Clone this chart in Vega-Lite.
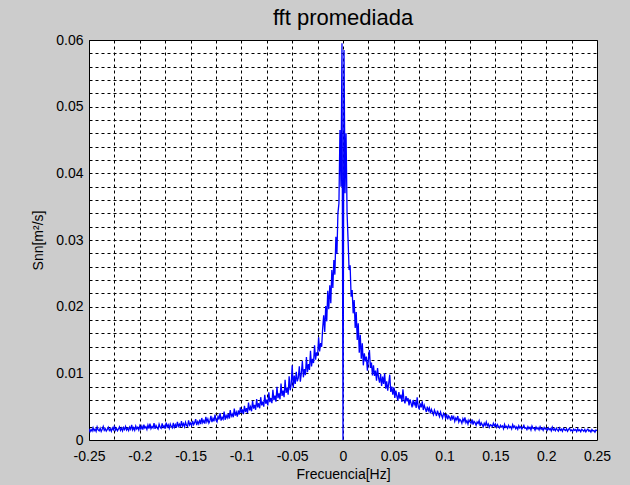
{
  "$schema": "https://vega.github.io/schema/vega-lite/v6.json",
  "width": 508,
  "height": 400,
  "autosize": {"type": "none"},
  "padding": {"left": 89, "top": 40, "right": 33, "bottom": 45},
  "background": "#cccccc",
  "title": {"text": "fft promediada", "fontSize": 22, "fontWeight": "normal", "font": "Liberation Sans", "color": "#000000", "offset": 3},
  "config": {
    "view": {"stroke": "#000000", "strokeWidth": 1, "fill": "#ffffff"},
    "axis": {"labelFont": "Liberation Sans", "titleFont": "Liberation Sans", "labelFontSize": 14, "titleFontSize": 14, "labelColor": "#000000", "titleColor": "#000000", "titleFontWeight": "normal", "domain": false, "ticks": false, "grid": true, "gridColor": "#000000", "gridDash": [3, 3], "gridOpacity": 1, "gridWidth": 1}
  },
  "data": {"values": [
    {"f": -0.25, "s": 0.0017}, {"f": -0.249, "s": 0.00125}, {"f": -0.248, "s": 0.00158}, {"f": -0.247, "s": 0.00132}, {"f": -0.246, "s": 0.00185}, {"f": -0.245, "s": 0.0014}, {"f": -0.244, "s": 0.00164}, {"f": -0.243, "s": 0.00128}, {"f": -0.242, "s": 0.00196}, {"f": -0.241, "s": 0.00151},
    {"f": -0.24, "s": 0.00136}, {"f": -0.239, "s": 0.00177}, {"f": -0.238, "s": 0.00129}, {"f": -0.237, "s": 0.00162}, {"f": -0.236, "s": 0.00203}, {"f": -0.235, "s": 0.00144}, {"f": -0.234, "s": 0.00171}, {"f": -0.233, "s": 0.00135}, {"f": -0.232, "s": 0.00159}, {"f": -0.231, "s": 0.0019},
    {"f": -0.23, "s": 0.00142}, {"f": -0.229, "s": 0.00168}, {"f": -0.228, "s": 0.0013}, {"f": -0.227, "s": 0.00182}, {"f": -0.226, "s": 0.00154}, {"f": -0.225, "s": 0.00215}, {"f": -0.224, "s": 0.00147}, {"f": -0.223, "s": 0.00173}, {"f": -0.222, "s": 0.00138}, {"f": -0.221, "s": 0.00166},
    {"f": -0.22, "s": 0.00198}, {"f": -0.219, "s": 0.00145}, {"f": -0.218, "s": 0.00179}, {"f": -0.217, "s": 0.00136}, {"f": -0.216, "s": 0.00188}, {"f": -0.215, "s": 0.00157}, {"f": -0.214, "s": 0.00204}, {"f": -0.213, "s": 0.00149}, {"f": -0.212, "s": 0.00176}, {"f": -0.211, "s": 0.00141},
    {"f": -0.21, "s": 0.00193}, {"f": -0.209, "s": 0.0016}, {"f": -0.208, "s": 0.00226}, {"f": -0.207, "s": 0.00152}, {"f": -0.206, "s": 0.00184}, {"f": -0.205, "s": 0.00146}, {"f": -0.204, "s": 0.00209}, {"f": -0.203, "s": 0.00165}, {"f": -0.202, "s": 0.00191}, {"f": -0.201, "s": 0.0015},
    {"f": -0.2, "s": 0.00212}, {"f": -0.199, "s": 0.00164}, {"f": -0.198, "s": 0.00207}, {"f": -0.197, "s": 0.00156}, {"f": -0.196, "s": 0.00231}, {"f": -0.195, "s": 0.00178}, {"f": -0.194, "s": 0.00199}, {"f": -0.193, "s": 0.00158}, {"f": -0.192, "s": 0.00224}, {"f": -0.191, "s": 0.00172},
    {"f": -0.19, "s": 0.00246}, {"f": -0.189, "s": 0.00169}, {"f": -0.188, "s": 0.00202}, {"f": -0.187, "s": 0.0018}, {"f": -0.186, "s": 0.00253}, {"f": -0.185, "s": 0.00167}, {"f": -0.184, "s": 0.00218}, {"f": -0.183, "s": 0.00186}, {"f": -0.182, "s": 0.00163}, {"f": -0.181, "s": 0.00237},
    {"f": -0.18, "s": 0.00194}, {"f": -0.179, "s": 0.00175}, {"f": -0.178, "s": 0.00249}, {"f": -0.177, "s": 0.00189}, {"f": -0.176, "s": 0.00214}, {"f": -0.175, "s": 0.0017}, {"f": -0.174, "s": 0.00262}, {"f": -0.173, "s": 0.00196}, {"f": -0.172, "s": 0.00227}, {"f": -0.171, "s": 0.00177},
    {"f": -0.17, "s": 0.0024}, {"f": -0.169, "s": 0.00203}, {"f": -0.168, "s": 0.00181}, {"f": -0.167, "s": 0.00258}, {"f": -0.166, "s": 0.0019}, {"f": -0.165, "s": 0.00229}, {"f": -0.164, "s": 0.00184}, {"f": -0.163, "s": 0.00271}, {"f": -0.162, "s": 0.00206}, {"f": -0.161, "s": 0.00236},
    {"f": -0.16, "s": 0.00192}, {"f": -0.159, "s": 0.00284}, {"f": -0.158, "s": 0.00211}, {"f": -0.157, "s": 0.00245}, {"f": -0.156, "s": 0.00198}, {"f": -0.155, "s": 0.00267}, {"f": -0.154, "s": 0.0022}, {"f": -0.153, "s": 0.00205}, {"f": -0.152, "s": 0.00293}, {"f": -0.151, "s": 0.00226},
    {"f": -0.15, "s": 0.00254}, {"f": -0.149, "s": 0.00215}, {"f": -0.148, "s": 0.00288}, {"f": -0.147, "s": 0.0023}, {"f": -0.146, "s": 0.0026}, {"f": -0.145, "s": 0.00312}, {"f": -0.144, "s": 0.00224}, {"f": -0.143, "s": 0.00276}, {"f": -0.142, "s": 0.00241}, {"f": -0.141, "s": 0.00305},
    {"f": -0.14, "s": 0.00237}, {"f": -0.139, "s": 0.0033}, {"f": -0.138, "s": 0.00258}, {"f": -0.137, "s": 0.00291}, {"f": -0.136, "s": 0.00246}, {"f": -0.135, "s": 0.00347}, {"f": -0.134, "s": 0.00273}, {"f": -0.133, "s": 0.00316}, {"f": -0.132, "s": 0.00255}, {"f": -0.131, "s": 0.00289},
    {"f": -0.13, "s": 0.00362}, {"f": -0.129, "s": 0.00269}, {"f": -0.128, "s": 0.00324}, {"f": -0.127, "s": 0.0028}, {"f": -0.126, "s": 0.00381}, {"f": -0.125, "s": 0.00297}, {"f": -0.124, "s": 0.00272}, {"f": -0.123, "s": 0.00353}, {"f": -0.122, "s": 0.00308}, {"f": -0.121, "s": 0.00402},
    {"f": -0.12, "s": 0.0029}, {"f": -0.119, "s": 0.00339}, {"f": -0.118, "s": 0.00311}, {"f": -0.117, "s": 0.00425}, {"f": -0.116, "s": 0.00304}, {"f": -0.115, "s": 0.00368}, {"f": -0.114, "s": 0.00332}, {"f": -0.113, "s": 0.00394}, {"f": -0.112, "s": 0.00319}, {"f": -0.111, "s": 0.0045},
    {"f": -0.11, "s": 0.00356}, {"f": -0.109, "s": 0.00389}, {"f": -0.108, "s": 0.00341}, {"f": -0.107, "s": 0.00473}, {"f": -0.106, "s": 0.00365}, {"f": -0.105, "s": 0.00416}, {"f": -0.104, "s": 0.0035}, {"f": -0.103, "s": 0.00442}, {"f": -0.102, "s": 0.00383}, {"f": -0.101, "s": 0.00491},
    {"f": -0.1, "s": 0.00405}, {"f": -0.099, "s": 0.00458}, {"f": -0.098, "s": 0.00387}, {"f": -0.097, "s": 0.00512}, {"f": -0.096, "s": 0.0042}, {"f": -0.095, "s": 0.00479}, {"f": -0.094, "s": 0.00406}, {"f": -0.093, "s": 0.00563}, {"f": -0.092, "s": 0.00444}, {"f": -0.091, "s": 0.00497},
    {"f": -0.09, "s": 0.00431}, {"f": -0.089, "s": 0.00588}, {"f": -0.088, "s": 0.0047}, {"f": -0.087, "s": 0.00526}, {"f": -0.086, "s": 0.00453}, {"f": -0.085, "s": 0.00614}, {"f": -0.084, "s": 0.00488}, {"f": -0.083, "s": 0.00551}, {"f": -0.082, "s": 0.00476}, {"f": -0.081, "s": 0.00642},
    {"f": -0.08, "s": 0.00519}, {"f": -0.079, "s": 0.00574}, {"f": -0.078, "s": 0.00501}, {"f": -0.077, "s": 0.00679}, {"f": -0.076, "s": 0.00543}, {"f": -0.075, "s": 0.00606}, {"f": -0.074, "s": 0.0052}, {"f": -0.073, "s": 0.00715}, {"f": -0.072, "s": 0.00568}, {"f": -0.071, "s": 0.0063},
    {"f": -0.07, "s": 0.00552}, {"f": -0.069, "s": 0.00753}, {"f": -0.068, "s": 0.00599}, {"f": -0.067, "s": 0.00664}, {"f": -0.066, "s": 0.00575}, {"f": -0.065, "s": 0.00798}, {"f": -0.064, "s": 0.00627}, {"f": -0.063, "s": 0.00701}, {"f": -0.062, "s": 0.0061}, {"f": -0.061, "s": 0.00846},
    {"f": -0.06, "s": 0.00662}, {"f": -0.059, "s": 0.0074}, {"f": -0.058, "s": 0.00643}, {"f": -0.057, "s": 0.00902}, {"f": -0.056, "s": 0.00705}, {"f": -0.055, "s": 0.00784}, {"f": -0.054, "s": 0.00681}, {"f": -0.053, "s": 0.00957}, {"f": -0.052, "s": 0.00746}, {"f": -0.051, "s": 0.0083},
    {"f": -0.05, "s": 0.0112}, {"f": -0.049, "s": 0.0078}, {"f": -0.048, "s": 0.00965}, {"f": -0.047, "s": 0.00842}, {"f": -0.046, "s": 0.01023}, {"f": -0.045, "s": 0.0088}, {"f": -0.044, "s": 0.00931}, {"f": -0.043, "s": 0.01104}, {"f": -0.042, "s": 0.00875}, {"f": -0.041, "s": 0.00998},
    {"f": -0.04, "s": 0.01186}, {"f": -0.039, "s": 0.0094}, {"f": -0.038, "s": 0.01062}, {"f": -0.037, "s": 0.00973}, {"f": -0.036, "s": 0.01245}, {"f": -0.035, "s": 0.01016}, {"f": -0.034, "s": 0.01139}, {"f": -0.033, "s": 0.0105}, {"f": -0.032, "s": 0.01338}, {"f": -0.031, "s": 0.01102},
    {"f": -0.03, "s": 0.01217}, {"f": -0.029, "s": 0.01155}, {"f": -0.028, "s": 0.0142}, {"f": -0.027, "s": 0.01204}, {"f": -0.026, "s": 0.01316}, {"f": -0.025, "s": 0.01263}, {"f": -0.024, "s": 0.01539}, {"f": -0.023, "s": 0.0133}, {"f": -0.022, "s": 0.01452}, {"f": -0.021, "s": 0.01398},
    {"f": -0.02, "s": 0.0168}, {"f": -0.019, "s": 0.0187}, {"f": -0.018, "s": 0.0162}, {"f": -0.017, "s": 0.0201}, {"f": -0.016, "s": 0.0178}, {"f": -0.015, "s": 0.0224}, {"f": -0.014, "s": 0.0196}, {"f": -0.013, "s": 0.0232}, {"f": -0.012, "s": 0.0205}, {"f": -0.011, "s": 0.0255},
    {"f": -0.01, "s": 0.0228}, {"f": -0.009, "s": 0.027}, {"f": -0.008, "s": 0.0248}, {"f": -0.007, "s": 0.0305}, {"f": -0.006, "s": 0.0279}, {"f": -0.005, "s": 0.034}, {"f": -0.004, "s": 0.0355}, {"f": -0.003, "s": 0.0465}, {"f": -0.002, "s": 0.038}, {"f": -0.001, "s": 0.0595},
    {"f": 0, "s": 0},
    {"f": 0.001, "s": 0.0585}, {"f": 0.002, "s": 0.037}, {"f": 0.003, "s": 0.046}, {"f": 0.004, "s": 0.034}, {"f": 0.005, "s": 0.03}, {"f": 0.006, "s": 0.0255}, {"f": 0.007, "s": 0.0262}, {"f": 0.008, "s": 0.0215}, {"f": 0.009, "s": 0.0225}, {"f": 0.01, "s": 0.019},
    {"f": 0.011, "s": 0.021}, {"f": 0.012, "s": 0.0168}, {"f": 0.013, "s": 0.0192}, {"f": 0.014, "s": 0.015}, {"f": 0.015, "s": 0.0175}, {"f": 0.016, "s": 0.0131}, {"f": 0.017, "s": 0.0158}, {"f": 0.018, "s": 0.0122}, {"f": 0.019, "s": 0.0145}, {"f": 0.02, "s": 0.0112},
    {"f": 0.021, "s": 0.013}, {"f": 0.022, "s": 0.0118}, {"f": 0.023, "s": 0.0125}, {"f": 0.024, "s": 0.0104}, {"f": 0.025, "s": 0.0121}, {"f": 0.026, "s": 0.0135}, {"f": 0.027, "s": 0.0108}, {"f": 0.028, "s": 0.0116}, {"f": 0.029, "s": 0.0097}, {"f": 0.03, "s": 0.0112},
    {"f": 0.031, "s": 0.0096}, {"f": 0.032, "s": 0.0104}, {"f": 0.033, "s": 0.0089}, {"f": 0.034, "s": 0.0108}, {"f": 0.035, "s": 0.0093}, {"f": 0.036, "s": 0.0086}, {"f": 0.037, "s": 0.0099}, {"f": 0.038, "s": 0.0081}, {"f": 0.039, "s": 0.0095}, {"f": 0.04, "s": 0.0084},
    {"f": 0.041, "s": 0.01}, {"f": 0.042, "s": 0.0077}, {"f": 0.043, "s": 0.0088}, {"f": 0.044, "s": 0.0074}, {"f": 0.045, "s": 0.0085}, {"f": 0.046, "s": 0.0098}, {"f": 0.047, "s": 0.0072}, {"f": 0.048, "s": 0.008}, {"f": 0.049, "s": 0.0068}, {"f": 0.05, "s": 0.0079},
    {"f": 0.051, "s": 0.0063}, {"f": 0.052, "s": 0.0074}, {"f": 0.053, "s": 0.0066}, {"f": 0.054, "s": 0.0059}, {"f": 0.055, "s": 0.0072}, {"f": 0.056, "s": 0.0062}, {"f": 0.057, "s": 0.0068}, {"f": 0.058, "s": 0.0057}, {"f": 0.059, "s": 0.0076}, {"f": 0.06, "s": 0.006},
    {"f": 0.061, "s": 0.0055}, {"f": 0.062, "s": 0.0066}, {"f": 0.063, "s": 0.0058}, {"f": 0.064, "s": 0.0063}, {"f": 0.065, "s": 0.0052}, {"f": 0.066, "s": 0.0061}, {"f": 0.067, "s": 0.0055}, {"f": 0.068, "s": 0.0049}, {"f": 0.069, "s": 0.006}, {"f": 0.07, "s": 0.0053},
    {"f": 0.071, "s": 0.0057}, {"f": 0.072, "s": 0.0048}, {"f": 0.073, "s": 0.0064}, {"f": 0.074, "s": 0.0051}, {"f": 0.075, "s": 0.0046}, {"f": 0.076, "s": 0.0055}, {"f": 0.077, "s": 0.0049}, {"f": 0.078, "s": 0.0058}, {"f": 0.079, "s": 0.0045}, {"f": 0.08, "s": 0.0052},
    {"f": 0.081, "s": 0.0047}, {"f": 0.082, "s": 0.0042}, {"f": 0.083, "s": 0.005}, {"f": 0.084, "s": 0.0044}, {"f": 0.085, "s": 0.0048}, {"f": 0.086, "s": 0.004}, {"f": 0.087, "s": 0.0046}, {"f": 0.088, "s": 0.0042}, {"f": 0.089, "s": 0.0038}, {"f": 0.09, "s": 0.0045},
    {"f": 0.091, "s": 0.0041}, {"f": 0.092, "s": 0.0036}, {"f": 0.093, "s": 0.0044}, {"f": 0.094, "s": 0.0039}, {"f": 0.095, "s": 0.0035}, {"f": 0.096, "s": 0.0042}, {"f": 0.097, "s": 0.0037}, {"f": 0.098, "s": 0.0033}, {"f": 0.099, "s": 0.004}, {"f": 0.1, "s": 0.0038},
    {"f": 0.101, "s": 0.0033}, {"f": 0.102, "s": 0.0039}, {"f": 0.103, "s": 0.0031}, {"f": 0.104, "s": 0.0036}, {"f": 0.105, "s": 0.0034}, {"f": 0.106, "s": 0.0029}, {"f": 0.107, "s": 0.0037}, {"f": 0.108, "s": 0.0032}, {"f": 0.109, "s": 0.0035}, {"f": 0.11, "s": 0.0028},
    {"f": 0.111, "s": 0.0033}, {"f": 0.112, "s": 0.003}, {"f": 0.113, "s": 0.0036}, {"f": 0.114, "s": 0.0027}, {"f": 0.115, "s": 0.0031}, {"f": 0.116, "s": 0.0029}, {"f": 0.117, "s": 0.0025}, {"f": 0.118, "s": 0.0032}, {"f": 0.119, "s": 0.0028}, {"f": 0.12, "s": 0.0034},
    {"f": 0.121, "s": 0.0026}, {"f": 0.122, "s": 0.0029}, {"f": 0.123, "s": 0.0024}, {"f": 0.124, "s": 0.003}, {"f": 0.125, "s": 0.0027}, {"f": 0.126, "s": 0.0025}, {"f": 0.127, "s": 0.0031}, {"f": 0.128, "s": 0.0023}, {"f": 0.129, "s": 0.0028}, {"f": 0.13, "s": 0.0026},
    {"f": 0.131, "s": 0.0022}, {"f": 0.132, "s": 0.0027}, {"f": 0.133, "s": 0.0025}, {"f": 0.134, "s": 0.0029}, {"f": 0.135, "s": 0.0021}, {"f": 0.136, "s": 0.0026}, {"f": 0.137, "s": 0.0023}, {"f": 0.138, "s": 0.002}, {"f": 0.139, "s": 0.0025}, {"f": 0.14, "s": 0.0022},
    {"f": 0.141, "s": 0.0027}, {"f": 0.142, "s": 0.0021}, {"f": 0.143, "s": 0.0024}, {"f": 0.144, "s": 0.0019}, {"f": 0.145, "s": 0.0023}, {"f": 0.146, "s": 0.0022}, {"f": 0.147, "s": 0.002}, {"f": 0.148, "s": 0.0025}, {"f": 0.149, "s": 0.0021}, {"f": 0.15, "s": 0.0024},
    {"f": 0.151, "s": 0.0019}, {"f": 0.152, "s": 0.0023}, {"f": 0.153, "s": 0.002}, {"f": 0.154, "s": 0.0018}, {"f": 0.155, "s": 0.0022}, {"f": 0.156, "s": 0.00195}, {"f": 0.157, "s": 0.0021}, {"f": 0.158, "s": 0.0017}, {"f": 0.159, "s": 0.00235}, {"f": 0.16, "s": 0.0019},
    {"f": 0.161, "s": 0.00205}, {"f": 0.162, "s": 0.00175}, {"f": 0.163, "s": 0.0022}, {"f": 0.164, "s": 0.00185}, {"f": 0.165, "s": 0.002}, {"f": 0.166, "s": 0.00165}, {"f": 0.167, "s": 0.0023}, {"f": 0.168, "s": 0.0019}, {"f": 0.169, "s": 0.0021}, {"f": 0.17, "s": 0.0017},
    {"f": 0.171, "s": 0.00195}, {"f": 0.172, "s": 0.0016}, {"f": 0.173, "s": 0.00215}, {"f": 0.174, "s": 0.0018}, {"f": 0.175, "s": 0.002}, {"f": 0.176, "s": 0.00165}, {"f": 0.177, "s": 0.0019}, {"f": 0.178, "s": 0.0022}, {"f": 0.179, "s": 0.00175}, {"f": 0.18, "s": 0.00185},
    {"f": 0.181, "s": 0.00155}, {"f": 0.182, "s": 0.002}, {"f": 0.183, "s": 0.0017}, {"f": 0.184, "s": 0.0019}, {"f": 0.185, "s": 0.0015}, {"f": 0.186, "s": 0.0021}, {"f": 0.187, "s": 0.00175}, {"f": 0.188, "s": 0.0018}, {"f": 0.189, "s": 0.00148}, {"f": 0.19, "s": 0.00195},
    {"f": 0.191, "s": 0.00165}, {"f": 0.192, "s": 0.00185}, {"f": 0.193, "s": 0.00152}, {"f": 0.194, "s": 0.002}, {"f": 0.195, "s": 0.0016}, {"f": 0.196, "s": 0.00178}, {"f": 0.197, "s": 0.00146}, {"f": 0.198, "s": 0.00188}, {"f": 0.199, "s": 0.00162}, {"f": 0.2, "s": 0.00172},
    {"f": 0.201, "s": 0.00145}, {"f": 0.202, "s": 0.00184}, {"f": 0.203, "s": 0.00156}, {"f": 0.204, "s": 0.0017}, {"f": 0.205, "s": 0.00138}, {"f": 0.206, "s": 0.00192}, {"f": 0.207, "s": 0.0015}, {"f": 0.208, "s": 0.00166}, {"f": 0.209, "s": 0.0014}, {"f": 0.21, "s": 0.00178},
    {"f": 0.211, "s": 0.00153}, {"f": 0.212, "s": 0.00134}, {"f": 0.213, "s": 0.0018}, {"f": 0.214, "s": 0.00146}, {"f": 0.215, "s": 0.00162}, {"f": 0.216, "s": 0.0013}, {"f": 0.217, "s": 0.00174}, {"f": 0.218, "s": 0.00154}, {"f": 0.219, "s": 0.00142}, {"f": 0.22, "s": 0.00168},
    {"f": 0.221, "s": 0.00132}, {"f": 0.222, "s": 0.00159}, {"f": 0.223, "s": 0.00176}, {"f": 0.224, "s": 0.0014}, {"f": 0.225, "s": 0.00151}, {"f": 0.226, "s": 0.00128}, {"f": 0.227, "s": 0.00165}, {"f": 0.228, "s": 0.00144}, {"f": 0.229, "s": 0.00157}, {"f": 0.23, "s": 0.00126},
    {"f": 0.231, "s": 0.0017}, {"f": 0.232, "s": 0.00139}, {"f": 0.233, "s": 0.00152}, {"f": 0.234, "s": 0.00124}, {"f": 0.235, "s": 0.00161}, {"f": 0.236, "s": 0.00148}, {"f": 0.237, "s": 0.00131}, {"f": 0.238, "s": 0.00158}, {"f": 0.239, "s": 0.00122}, {"f": 0.24, "s": 0.00149},
    {"f": 0.241, "s": 0.00164}, {"f": 0.242, "s": 0.00133}, {"f": 0.243, "s": 0.00145}, {"f": 0.244, "s": 0.0012}, {"f": 0.245, "s": 0.00156}, {"f": 0.246, "s": 0.00136}, {"f": 0.247, "s": 0.00141}, {"f": 0.248, "s": 0.00118}, {"f": 0.249, "s": 0.0015}, {"f": 0.25, "s": 0.00137}
  ]},
  "mark": {"type": "line", "color": "#0000ff", "strokeWidth": 1.3, "clip": true},
  "encoding": {
    "x": {
      "field": "f", "type": "quantitative",
      "scale": {"domain": [-0.25, 0.25], "nice": false, "zero": false},
      "axis": {
        "title": "Frecuencia[Hz]", "titlePadding": 4, "labelPadding": 9,
        "values": [-0.25, -0.225, -0.2, -0.175, -0.15, -0.125, -0.1, -0.075, -0.05, -0.025, 0, 0.025, 0.05, 0.075, 0.1, 0.125, 0.15, 0.175, 0.2, 0.225, 0.25],
        "labelExpr": "round(datum.value*1000) % 50 == 0 ? '' + datum.value : ''",
        "labelOverlap": false, "labelFlush": false
      }
    },
    "y": {
      "field": "s", "type": "quantitative",
      "scale": {"domain": [0, 0.06], "nice": false},
      "axis": {
        "title": "Snn[m²/s]", "titlePadding": 10, "labelPadding": 6,
        "values": [0, 0.002, 0.004, 0.006, 0.008, 0.01, 0.012, 0.014, 0.016, 0.018, 0.02, 0.022, 0.024, 0.026, 0.028, 0.03, 0.032, 0.034, 0.036, 0.038, 0.04, 0.042, 0.044, 0.046, 0.048, 0.05, 0.052, 0.054, 0.056, 0.058, 0.06],
        "labelExpr": "round(datum.value*1000) % 10 == 0 ? '' + datum.value : ''",
        "labelOverlap": false, "labelFlush": false
      }
    }
  }
}
